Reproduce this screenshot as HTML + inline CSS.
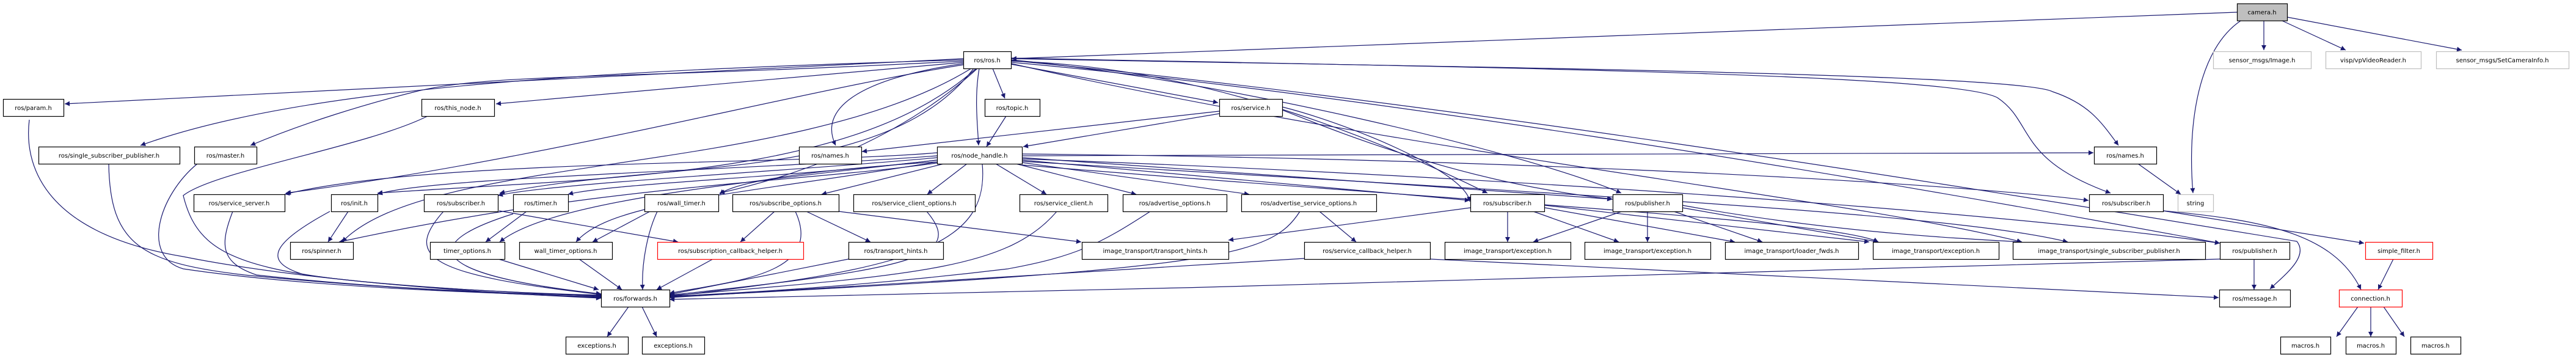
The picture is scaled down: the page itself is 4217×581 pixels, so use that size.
<!DOCTYPE html>
<html><head><meta charset="utf-8"><style>
html,body{margin:0;padding:0;background:#fff;}
svg{display:block}
text{font-family:"DejaVu Sans","Liberation Sans",sans-serif;font-size:10px;fill:#000}
</style></head><body>
<svg id="g" width="4217" height="581" viewBox="0 0 4217 581" xmlns="http://www.w3.org/2000/svg">
<defs><marker id="a" viewBox="0 0 10 10" refX="10" refY="5" markerWidth="10" markerHeight="8" markerUnits="userSpaceOnUse" orient="auto"><path d="M0,0L10,5L0,10z" fill="#191970"/></marker></defs>
<g id="e" fill="none" stroke="#191970" stroke-width="1.2"></g>
<g id="n"></g>
</svg>
<script>
var R=[5.6,84,162,240,318,396,474,551];
var N=[
["camera.h",3662,0,"c"],["sensor_msgs/Image.h",3623,1,"g"],["visp/vpVideoReader.h",3807,1,"g"],["sensor_msgs/SetCameraInfo.h",3988,1,"g"],
["ros/ros.h",1577,1],
["ros/param.h",5,2],["ros/this_node.h",690,2],["ros/topic.h",1612,2],["ros/service.h",1996,2],
["ros/single_subscriber_publisher.h",63,3],["ros/master.h",318,3],["ros/names.h",1308,3],["ros/node_handle.h",1534,3],["ros/names.h",3428,3],
["ros/service_server.h",317,4],["ros/init.h",542,4],["ros/subscriber.h",694,4],["ros/timer.h",840,4],["ros/wall_timer.h",1055,4],["ros/subscribe_options.h",1199,4],["ros/service_client_options.h",1397,4],["ros/service_client.h",1669,4],["ros/advertise_options.h",1838,4],["ros/advertise_service_options.h",2032,4],["ros/subscriber.h",2407,4],["ros/publisher.h",2640,4],["ros/subscriber.h",3420,4],["string",3565,4,"g"],
["ros/spinner.h",475,5],["timer_options.h",704,5],["wall_timer_options.h",850,5],["ros/subscription_callback_helper.h",1076,5,"r"],["ros/transport_hints.h",1389,5],["image_transport/transport_hints.h",1771,5],["ros/service_callback_helper.h",2135,5],["image_transport/exception.h",2365,5],["image_transport/exception.h",2594,5],["image_transport/loader_fwds.h",2824,5],["image_transport/exception.h",3066,5],["image_transport/single_subscriber_publisher.h",3295,5],["ros/publisher.h",3634,5],["simple_filter.h",3872,5,"r"],
["ros/forwards.h",984,6],["ros/message.h",3633,6],["connection.h",3829,6,"r"],
["exceptions.h",926,7],["exceptions.h",1051,7],["macros.h",3733,7],["macros.h",3840,7],["macros.h",3946,7]];
var W={"camera.h":82,"sensor_msgs/Image.h":160,"visp/vpVideoReader.h":156,"sensor_msgs/SetCameraInfo.h":217,"ros/ros.h":78,"ros/param.h":99,"ros/this_node.h":119,"ros/topic.h":90,"ros/service.h":103,"ros/single_subscriber_publisher.h":231,"ros/master.h":102,"ros/names.h":102,"ros/node_handle.h":139,"ros/service_server.h":149,"ros/init.h":76,"ros/subscriber.h":121,"ros/timer.h":90,"ros/wall_timer.h":121,"ros/subscribe_options.h":174,"ros/service_client_options.h":199,"ros/service_client.h":144,"ros/advertise_options.h":170,"ros/advertise_service_options.h":221,"ros/publisher.h":114,"string":58,"ros/spinner.h":103,"timer_options.h":122,"wall_timer_options.h":152,"ros/subscription_callback_helper.h":239,"ros/transport_hints.h":155,"image_transport/transport_hints.h":240,"ros/service_callback_helper.h":206,"image_transport/exception.h":206,"image_transport/loader_fwds.h":218,"image_transport/single_subscriber_publisher.h":315,"simple_filter.h":110,"ros/forwards.h":112,"ros/message.h":116,"connection.h":103,"exceptions.h":102,"macros.h":82};
var ns="http://www.w3.org/2000/svg",G=document.getElementById("n"),E=document.getElementById("e");
N.forEach(function(d){var w=W[d[0]],y=R[d[2]],r=document.createElementNS(ns,"rect");
r.setAttribute("x",d[1]+.5);r.setAttribute("y",y+.5);r.setAttribute("width",w);r.setAttribute("height",28);
r.setAttribute("fill",d[3]=="c"?"#bfbfbf":"#fff");r.setAttribute("stroke",d[3]=="g"?"#bfbfbf":d[3]=="r"?"#ff0000":"#000");r.setAttribute("stroke-width","1.2");G.appendChild(r);
var t=document.createElementNS(ns,"text");t.setAttribute("x",d[1]+w/2);t.setAttribute("y",y+18);t.setAttribute("text-anchor","middle");t.textContent=d[0];G.appendChild(t);});
var P=[
"M3662,20 L1656,96","M3706,34 L3706,82","M3736,34 L3840,82","M3744,28 L4030,82","M3668,34 C3600,80 3580,200 3590,316",
"M1577,96 L106,170","M1577,98 C1000,115 500,140 230,238","M1577,100 C1000,130 800,120 680,150 C600,170 500,200 410,238","M1577,102 L812,170",
"M1577,106 C1300,150 900,260 468,316","M1577,104 C1400,130 1340,180 1368,238","M1625,112 L1645,161","M1647,190 L1615,240","M1603,112 C1595,160 1600,200 1602,238","M1655,105 L1994,168",
"M1600,112 C1450,250 1250,300 1178,316","M1598,112 C1400,290 1000,290 618,316","M1594,112 C1450,300 1100,260 818,316","M1590,112 C1300,290 700,250 560,396",
"M1655,100 C2000,110 2300,250 2435,316","M1655,98 C2000,130 2500,250 2654,316","M1655,96 C2400,110 3300,120 3360,150 C3420,170 3440,200 3468,238","M1655,95 C2400,110 3200,120 3270,160 C3330,200 3300,260 3455,316",
"M1655,102 C2200,150 3000,280 3634,398","M1655,99 C2400,170 3300,320 3760,395 C3780,420 3740,450 3716,473","M1655,104 C2300,250 3000,320 3310,396",
"M1996,182 L1411,248","M1996,186 L1675,240","M2099,175 C2200,200 2400,280 2406,330","M2099,180 C2200,220 2400,300 2640,326",
"M1534,250 C1300,270 700,260 466,318","M1534,255 C1200,280 700,290 618,318","M1534,258 C1300,280 900,300 815,320","M1534,262 C1300,290 1000,300 930,318","M1534,265 C1300,280 1200,300 1178,318",
"M1534,262 C1200,300 900,330 818,396","M1534,265 C1200,320 1000,330 943,396","M1540,266 C1300,300 1000,300 555,396",
"M1545,268 L1345,318","M1583,268 L1518,318","M1630,268 L1713,318","M1663,268 L1860,318","M1673,266 L2045,318","M1673,262 L2406,328","M1673,258 L2639,326",
"M1673,255 L3427,250","M1673,252 C2500,260 3200,300 3419,328","M1673,260 C2500,290 3300,350 3634,398","M1673,264 C2600,320 3200,350 3385,396","M1673,270 C2400,330 3000,360 3075,396",
"M1608,268 C1620,400 1500,440 1096,485",
"M48,196 C40,260 60,380 300,420 C500,460 800,480 984,488","M178,268 C180,400 230,430 400,450 C600,470 800,480 984,487","M323,268 C260,320 230,420 300,440 C500,470 800,480 984,486",
"M700,190 C600,240 350,280 300,320 C330,440 420,460 984,485","M381,346 C360,400 360,430 420,450 C600,470 800,480 984,484","M540,346 C440,400 430,430 500,450 C650,470 850,480 984,483",
"M570,346 L537,396","M726,346 C660,420 700,450 984,482","M817,345 L1110,396","M862,346 L795,396","M840,350 C680,400 700,450 984,481","M816,424 L980,474","M948,424 L1018,474",
"M1064,346 L970,396","M1076,346 C1060,380 1050,430 1052,474","M1029,502 L994,551","M1051,502 L1075,551",
"M1268,346 L1212,396","M1302,346 C1350,450 1200,460 1096,480","M1320,346 L1425,396","M1373,346 L1770,396","M1167,424 L1075,474","M1389,424 L1096,482",
"M1517,346 C1580,420 1500,440 1096,483","M1730,346 C1650,440 1500,450 1096,484","M1883,346 C1800,400 1760,420 1650,440 C1400,470 1200,480 1096,485","M2128,346 C2080,420 2000,440 1096,486",
"M2160,346 L2220,396","M2407,340 L2011,393","M2135,423 L1096,487","M2341,424 L3632,487","M3634,424 C3300,440 2000,470 1096,490",
"M2468,346 L2468,396","M2510,346 L2650,396","M2529,340 L2840,396","M2529,336 L3060,396","M2655,346 L2510,396","M2697,346 L2697,396","M2740,346 L2885,396","M2754,340 L3075,396","M2754,336 C3000,380 3200,390 3310,396",
"M3500,268 L3570,318","M3541,345 L3870,398","M3541,345 C3700,360 3820,380 3865,474","M3918,424 L3893,474","M3690,424 L3690,474",
"M3860,502 L3825,551","M3881,502 L3881,551","M3902,502 L3936,551"];
P.forEach(function(d){var p=document.createElementNS(ns,"path");p.setAttribute("d",d);p.setAttribute("marker-end","url(#a)");E.appendChild(p);});
</script>
</body></html>
